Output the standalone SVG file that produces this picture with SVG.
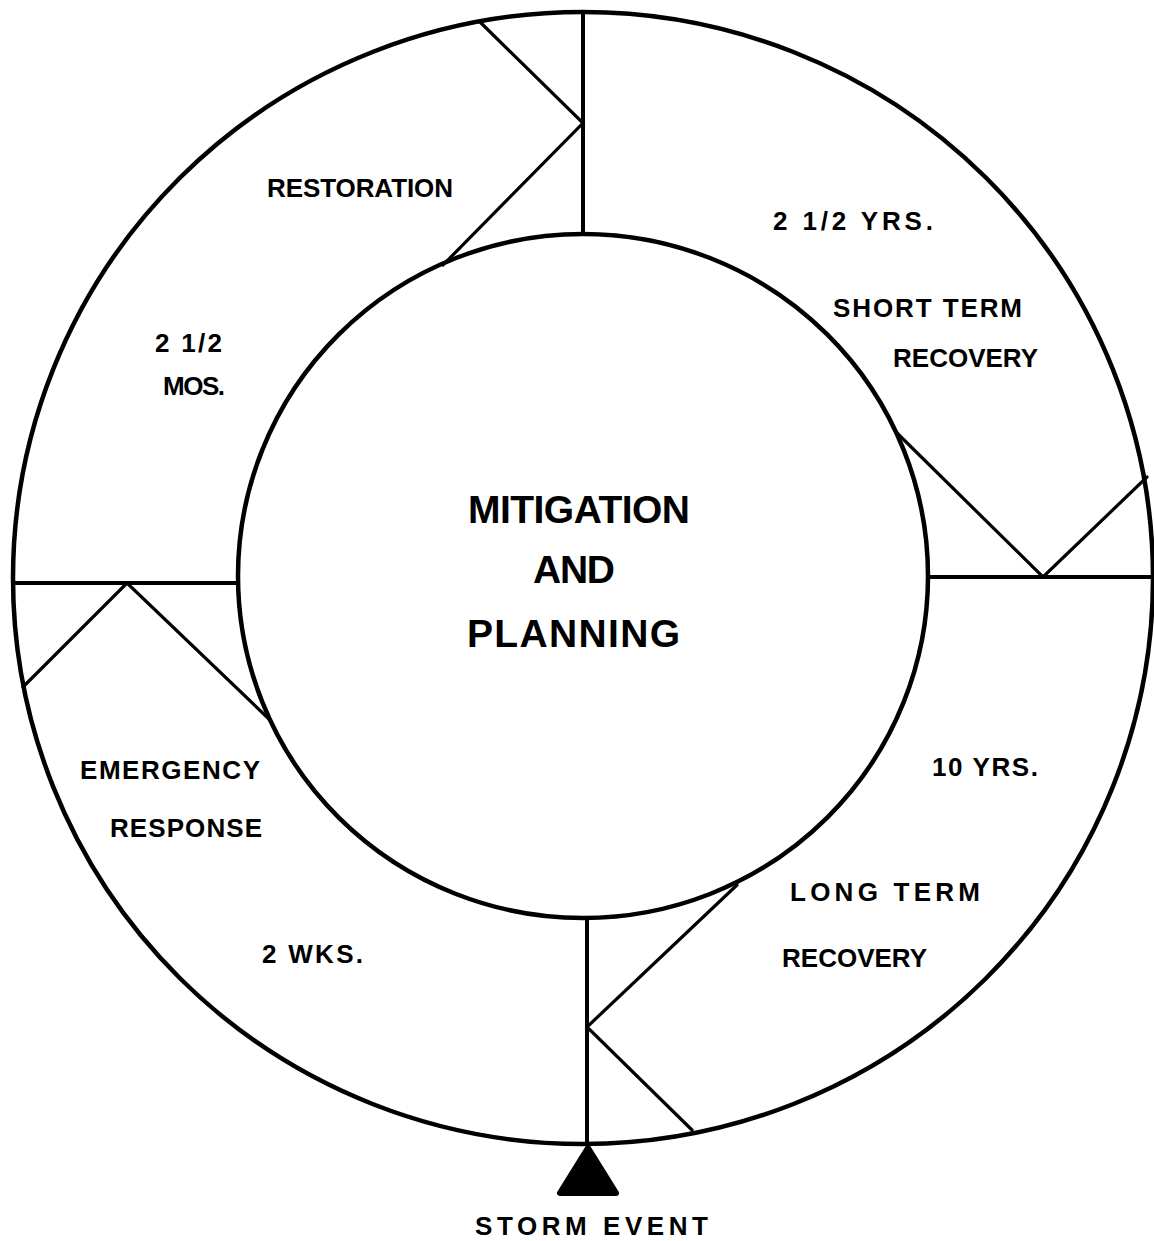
<svg xmlns="http://www.w3.org/2000/svg" width="1154" height="1241" viewBox="0 0 1154 1241">
<style>
.ring{fill:none;stroke:#000;stroke-width:4.5}
.div{fill:none;stroke:#000;stroke-width:4;stroke-linecap:butt}
.zig{fill:none;stroke:#000;stroke-width:3.2;stroke-linejoin:miter;stroke-linecap:round}
.t{font-family:"Liberation Sans",Arial,sans-serif;font-weight:bold;font-size:26px;fill:#000}
.big{font-family:"Liberation Sans",Arial,sans-serif;font-weight:bold;font-size:39px;fill:#000}
</style>
<rect width="1154" height="1241" fill="#fff"/>
<g id="outer-ring">
<ellipse class="ring" cx="583" cy="578" rx="570" ry="566"/>
</g>
<g id="hub">
<ellipse class="ring" cx="583" cy="576" rx="345" ry="342"/>
<text class="big" x="468" y="523" textLength="222" lengthAdjust="spacing">MITIGATION</text>
<text class="big" x="533" y="583" textLength="82" lengthAdjust="spacing">AND</text>
<text class="big" x="467" y="647" textLength="213" lengthAdjust="spacing">PLANNING</text>
</g>
<g id="connectors">
<line class="div" x1="583" y1="12" x2="583" y2="234"/>
<line class="div" x1="928" y1="577" x2="1153" y2="577"/>
<line class="div" x1="12" y1="583" x2="238" y2="583"/>
<line class="div" x1="587" y1="918" x2="587" y2="1145"/>
<polyline class="zig" points="480,22 583,123 443,265"/>
<polyline class="zig" points="897,433 1043,577 1147,477"/>
<polyline class="zig" points="23,687 127,583 270,720"/>
<polyline class="zig" points="737,885 587,1027 692,1130"/>
</g>
<g id="restoration">
<text class="t" x="267" y="197" textLength="186" lengthAdjust="spacing">RESTORATION</text>
<text class="t" x="155" y="352" textLength="67" lengthAdjust="spacing">2 1/2</text>
<text class="t" x="163" y="395" textLength="62" lengthAdjust="spacing">MOS.</text>
</g>
<g id="short-term-recovery">
<text class="t" x="773" y="230" textLength="160" lengthAdjust="spacing">2 1/2  YRS.</text>
<text class="t" x="833" y="317" textLength="189" lengthAdjust="spacing">SHORT  TERM</text>
<text class="t" x="893" y="367" textLength="145" lengthAdjust="spacing">RECOVERY</text>
</g>
<g id="long-term-recovery">
<text class="t" x="932" y="776" textLength="106" lengthAdjust="spacing">10 YRS.</text>
<text class="t" x="790" y="901" textLength="190" lengthAdjust="spacing">LONG  TERM</text>
<text class="t" x="782" y="967" textLength="145" lengthAdjust="spacing">RECOVERY</text>
</g>
<g id="emergency-response">
<text class="t" x="80" y="779" textLength="180" lengthAdjust="spacing">EMERGENCY</text>
<text class="t" x="110" y="837" textLength="152" lengthAdjust="spacing">RESPONSE</text>
<text class="t" x="262" y="963" textLength="101" lengthAdjust="spacing">2 WKS.</text>
</g>
<g id="storm-event">
<path d="M588,1148 L560,1193 L616,1193 Z" fill="#000" stroke="#000" stroke-width="6" stroke-linejoin="round"/>
<text class="t" x="475" y="1235" textLength="233" lengthAdjust="spacing">STORM  EVENT</text>
</g>
</svg>
